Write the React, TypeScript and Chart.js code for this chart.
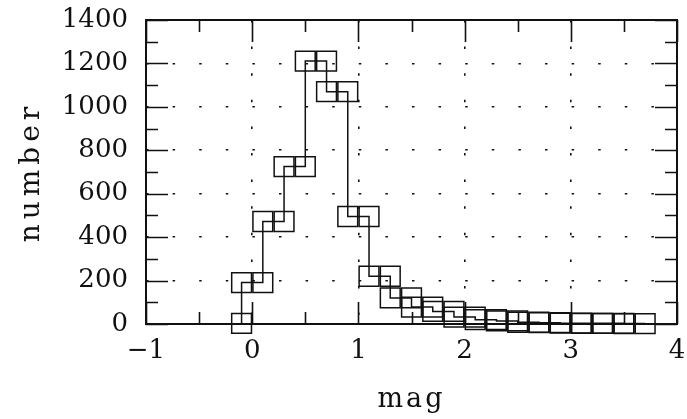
import React, { useEffect, useRef } from "react";
import { Chart, registerables } from "chart.js";

Chart.register(...registerables);

// Histogram of magnitudes: bin left edges, bin width, counts
const binStarts = [-0.1, 0.1, 0.3, 0.5, 0.7, 0.9, 1.1, 1.3, 1.5, 1.7, 1.9, 2.1, 2.3, 2.5, 2.7, 2.9, 3.1, 3.3, 3.5];
const binWidth = 0.2;
const binCounts = [191, 472, 725, 1211, 1070, 495, 220, 120, 78, 58, 32, 20, 14, 8, 6, 4, 3, 3, 2];
const startCount = 3;

const xMin = -1;
const xMax = 4;
const yMin = 0;
const yMax = 1400;
const xMajorStep = 1;
const xMinorStep = 0.5;
const yMajorStep = 200;
const yMinorStep = 100;

const FONT = "'DejaVu Serif', 'Liberation Serif', serif";

function buildPoints() {
  const pts: { x: number; y: number }[] = [{ x: binStarts[0], y: startCount }];
  binStarts.forEach((s, i) => {
    pts.push({ x: s, y: binCounts[i] });
    pts.push({ x: +(s + binWidth).toFixed(4), y: binCounts[i] });
  });
  return pts;
}

const spacedTitles = {
  id: "spacedTitles",
  afterLayout(chart: any) {
    const spacing: Record<string, string> = { x: "3px", y: "5px" };
    Object.keys(spacing).forEach((k) => {
      const s = chart.scales[k];
      if (!s || s._spacedWrapped) return;
      const orig = s.drawTitle.bind(s);
      s.drawTitle = function (...args: any[]) {
        const ctx = this.ctx;
        const prev = ctx.letterSpacing;
        ctx.letterSpacing = spacing[k];
        orig(...args);
        ctx.letterSpacing = prev || "0px";
      };
      s._spacedWrapped = true;
    });
  },
};

const frameTicks = {
  id: "frameTicks",
  beforeDatasetsDraw(chart: any) {
    const { ctx, chartArea } = chart;
    const xs = chart.scales.x;
    const ys = chart.scales.y;
    const { left, right, top, bottom } = chartArea;
    ctx.save();
    ctx.strokeStyle = "#111";
    ctx.lineWidth = 1.6;
    ctx.setLineDash([]);
    ctx.beginPath();
    const major = 22;
    const minor = 12;
    for (let v = xMin; v <= xMax + 1e-9; v += xMinorStep) {
      const isMajor = Math.abs(v / xMajorStep - Math.round(v / xMajorStep)) < 1e-6;
      const len = isMajor ? major : minor;
      const px = Math.round(xs.getPixelForValue(v)) + 0.5;
      ctx.moveTo(px, bottom);
      ctx.lineTo(px, bottom - len);
      ctx.moveTo(px, top);
      ctx.lineTo(px, top + len);
    }
    for (let v = yMin; v <= yMax + 1e-9; v += yMinorStep) {
      const isMajor = Math.abs(v / yMajorStep - Math.round(v / yMajorStep)) < 1e-6;
      const len = isMajor ? major : minor;
      const py = Math.round(ys.getPixelForValue(v)) + 0.5;
      ctx.moveTo(left, py);
      ctx.lineTo(left + len, py);
      ctx.moveTo(right, py);
      ctx.lineTo(right - len, py);
    }
    ctx.stroke();
    ctx.lineWidth = 2;
    ctx.strokeRect(left, top, right - left, bottom - top);
    ctx.restore();
  },
};

export default function App() {
  const ref = useRef<HTMLCanvasElement | null>(null);
  useEffect(() => {
    if (!ref.current) return;
    const chart = new Chart(ref.current, {
      type: "scatter",
      data: {
        datasets: [
          {
            data: buildPoints(),
            showLine: true,
            borderColor: "#111",
            borderWidth: 1.5,
            pointStyle: "rect",
            pointRadius: 14,
            pointHoverRadius: 14,
            pointBorderWidth: 1.5,
            pointBorderColor: "#111",
            pointBackgroundColor: "rgba(0,0,0,0)",
            clip: false as any,
          } as any,
        ],
      },
      options: {
        animation: false,
        responsive: true,
        maintainAspectRatio: false,
        layout: { autoPadding: false, padding: { left: 0, right: 10, top: 20, bottom: 0 } } as any,
        plugins: { legend: { display: false }, tooltip: { enabled: false } },
        scales: {
          x: {
            type: "linear",
            min: xMin,
            max: xMax,
            afterFit: (s: any) => {
              s.height = 95;
              s.paddingLeft = 0;
              s.paddingRight = 0;
            },
            ticks: {
              stepSize: xMajorStep,
              color: "#111",
              padding: 12,
              font: { family: FONT, size: 26 },
              callback: (v: any) => (v < 0 ? "\u2212" + Math.abs(v) : String(v)),
              maxRotation: 0,
            },
            grid: { color: "#111", lineWidth: 1.6, drawTicks: false },
            border: { display: false, dash: [2.5, 24.1] },
            title: {
              display: true,
              text: "mag",
              color: "#111",
              font: { family: FONT, size: 27 },
              padding: { top: 0, bottom: 3 },
            },
          },
          y: {
            type: "linear",
            min: yMin,
            max: yMax,
            afterFit: (s: any) => {
              s.width = 146;
              s.paddingTop = 0;
              s.paddingBottom = 0;
            },
            ticks: {
              stepSize: yMajorStep,
              color: "#111",
              padding: 18,
              font: { family: FONT, size: 26 },
              callback: (v: any) => String(v),
            },
            grid: { color: "#111", lineWidth: 1.6, drawTicks: false },
            border: { display: false, dash: [2.5, 24.1] },
            title: {
              display: true,
              text: "number",
              color: "#111",
              font: { family: FONT, size: 28 },
              padding: { top: 15, bottom: 0 },
            },
          },
        },
      },
      plugins: [spacedTitles, frameTicks],
    });
    return () => chart.destroy();
  }, []);
  return (
    <div style={{ position: "fixed", left: 0, top: 0, width: 687, height: 419, background: "#fff" }}>
      <canvas ref={ref} />
    </div>
  );
}
